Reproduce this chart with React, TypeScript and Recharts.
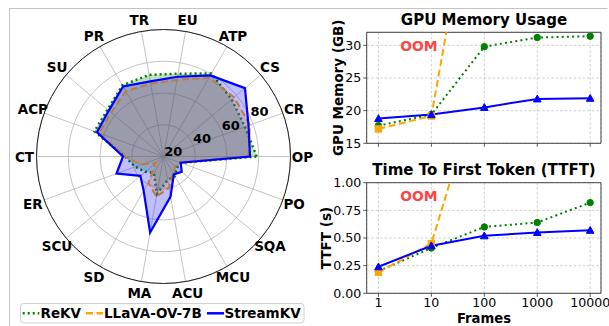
import React from 'react';
import {
  RadarChart, PolarGrid, PolarAngleAxis, PolarRadiusAxis, Radar,
  LineChart, Line, XAxis, YAxis, CartesianGrid, ReferenceArea, ReferenceDot,
} from 'recharts';

// ---------- Radar data (StreamingBench categories) ----------
const categories = ['OP', 'CR', 'CS', 'ATP', 'EU', 'TR', 'PR', 'SU', 'ACP', 'CT', 'ER', 'SCU', 'SD', 'MA', 'ACU', 'MCU', 'SQA', 'PO'];
const rekvScores = [58.7, 54.6, 56, 60.3, 53, 52.2, 51.8, 46, 46.3, 24.3, 19, 15, 12, 24, 15, 14.3, 11, 11.7];
const llavaScores = [53.5, 58, 58, 57.3, 49, 46.5, 47.5, 43, 43.2, 24.3, 15, 6.6, 19, 25.8, 20, 12, 9.7, 10.9];
const streamkvScores = [54.5, 57, 67, 59, 51, 48, 51, 45, 44.6, 25.5, 31.5, 19, 25, 48.6, 25.6, 13, 15, 11.5];
const radialTicks = [20, 40, 60, 80];

// ---------- Line data ----------
const frames = [1, 10, 100, 1000, 10000];
const minorFrameTicks = [0.7, 0.8, 0.9, 2, 3, 4, 5, 6, 7, 8, 9, 20, 30, 40, 50, 60, 70, 80, 90, 200, 300, 400, 500, 600, 700, 800, 900, 2000, 3000, 4000, 5000, 6000, 7000, 8000, 9000];
const memRekv = [17.7, 19.4, 29.8, 31.2, 31.4];
const memLlava = [17.2, 19.2, 64.5, null, null];
const memStreamkv = [18.8, 19.4, 20.5, 21.8, 21.9];
const ttftRekv = [0.20, 0.41, 0.60, 0.64, 0.82];
const ttftLlava = [0.19, 0.45, 2.03, null, null];
const ttftStreamkv = [0.24, 0.43, 0.52, 0.55, 0.57];
const memTicks = [15, 20, 25, 30];
const ttftTicks = [0, 0.25, 0.5, 0.75, 1];

const FONT = '"DejaVu Sans", sans-serif';
const GREEN = '#008000';
const ORANGE = '#ffa500';
const BLUE = '#0000ff';
const OOM_RED = '#ff4444';

const CX = 163.5;
const CY = 156.5;

const radarData = categories.map((c, i) => ({
  cat: c,
  rekv: rekvScores[i],
  llava: llavaScores[i],
  streamkv: streamkvScores[i],
}));

const memData = frames.map((f, i) => ({ f, rekv: memRekv[i], llava: memLlava[i], streamkv: memStreamkv[i] }));
const ttftData = frames.map((f, i) => ({ f, rekv: ttftRekv[i], llava: ttftLlava[i], streamkv: ttftStreamkv[i] }));

const AngleTick = (props: any) => {
  const { payload, x, y, index } = props;
  const idx = typeof index === 'number' ? index : categories.indexOf(payload.value);
  const ang = idx >= 0 ? (360 * idx) / categories.length : (Math.atan2(CY - y, x - CX) * 180) / Math.PI + 40;
  const a = (ang * Math.PI) / 180;
  const R = 139;
  const tx = CX + R * Math.cos(a);
  const ty = CY - R * Math.sin(a);
  return (
    <text x={tx} y={ty} textAnchor="middle" dominantBaseline="central" fontFamily={FONT} fontWeight="bold" fontSize={13.5} fill="#000">
      {payload.value}
    </text>
  );
};

const RadiusTick = (props: any) => {
  const { x, y, payload } = props;
  if (!payload || payload.value === 0) return <g />;
  const a = (25 * Math.PI) / 180;
  return (
    <text x={x - 21 * Math.cos(a)} y={y + 21 * Math.sin(a)} textAnchor="middle" dominantBaseline="central" fontFamily={FONT} fontWeight="bold" fontSize={13} fill="#000">
      {payload.value}
    </text>
  );
};

const circleDot = (color: string) => (p: any) => {
  if (p.cx == null || p.cy == null || p.value == null) return <g key={p.index} />;
  return <circle key={p.index} cx={p.cx} cy={p.cy} r={3.2} fill={color} stroke={color} />;
};
const squareDot = (color: string) => (p: any) => {
  if (p.cx == null || p.cy == null || p.value == null) return <g key={p.index} />;
  return <rect key={p.index} x={p.cx - 3.2} y={p.cy - 3.2} width={6.4} height={6.4} fill={color} stroke={color} />;
};
const triDot = (color: string) => (p: any) => {
  if (p.cx == null || p.cy == null || p.value == null) return <g key={p.index} />;
  const s = 3.8;
  return <path key={p.index} d={`M${p.cx},${p.cy - s} L${p.cx + s},${p.cy + s * 0.8} L${p.cx - s},${p.cy + s * 0.8} Z`} fill={color} stroke={color} />;
};

const emptyTick = () => <g />;

const tickStyle = { fontSize: 12.6, fill: '#000', fontFamily: FONT };

const X_DOMAIN = [0.6, 16000];

function FrameChart({ data, yDomain, yTicks, yFormat, showXLabels, height, marginTop, xAxisHeight, oomY }: any) {
  return (
    <LineChart width={309} height={height} data={data} margin={{ top: marginTop, right: 8, bottom: 0, left: 0 }}>
      <XAxis xAxisId="minor" dataKey="f" type="number" scale="log" domain={X_DOMAIN} allowDataOverflow ticks={minorFrameTicks}
        interval={0} tick={emptyTick} tickSize={2} tickLine={{ stroke: '#333', strokeWidth: 0.8 }} axisLine={false} height={0} />
      <XAxis xAxisId="main" dataKey="f" type="number" scale="log" domain={X_DOMAIN} allowDataOverflow ticks={frames}
        interval={0} tick={showXLabels ? tickStyle : emptyTick} tickSize={3.5} tickMargin={1} tickLine={{ stroke: '#333', strokeWidth: 0.8 }}
        axisLine={false} height={xAxisHeight} />
      <YAxis type="number" domain={yDomain} allowDataOverflow ticks={yTicks} interval={0} tickFormatter={yFormat}
        tick={tickStyle} tickSize={3.5} tickMargin={2} tickLine={{ stroke: '#333', strokeWidth: 0.8 }} axisLine={false} width={66.7} />
      <CartesianGrid xAxisId="main" stroke="#c4c4c4" strokeWidth={0.8} strokeDasharray="2.5 2" />
      <ReferenceArea xAxisId="main" x1={X_DOMAIN[0]} x2={X_DOMAIN[1]} y1={yDomain[0]} y2={yDomain[1]} fill="none" stroke="#444" strokeWidth={1} ifOverflow="visible" />
      <Line xAxisId="main" dataKey="rekv" stroke={GREEN} strokeWidth={2} strokeDasharray="2 3.2" dot={circleDot(GREEN)} isAnimationActive={false} />
      <Line xAxisId="main" dataKey="llava" stroke={ORANGE} strokeWidth={2} strokeDasharray="7 3.5" dot={squareDot(ORANGE)} isAnimationActive={false} />
      <Line xAxisId="main" dataKey="streamkv" stroke={BLUE} strokeWidth={2} dot={triDot(BLUE)} isAnimationActive={false} />
      <ReferenceDot xAxisId="main" x={5.8} y={oomY} r={0} fill="none" stroke="none" ifOverflow="visible"
        label={{ value: 'OOM', position: 'center', fill: OOM_RED, fontSize: 13.8, fontWeight: 'bold', fontFamily: FONT }} />
    </LineChart>
  );
}

export default function App() {
  return (
    <div style={{ position: 'absolute', left: 0, top: 0, width: 609, height: 326, background: '#fff', overflow: 'hidden' }}>
      <div style={{ position: 'absolute', left: 0, top: 0 }}>
        <RadarChart width={320} height={300} cx={CX} cy={CY} outerRadius={127} startAngle={-20} endAngle={340} data={radarData}
          margin={{ top: 0, right: 0, bottom: 0, left: 0 }}>
          <PolarGrid gridType="circle" stroke="#b4b4b4" strokeWidth={0.8} />
          <PolarAngleAxis dataKey="cat" tick={AngleTick} tickLine={false} axisLineType="circle" axisLine={{ stroke: '#222', strokeWidth: 1 }} />
          <Radar dataKey="rekv" stroke={GREEN} strokeWidth={2.5} strokeDasharray="2 3" fill={GREEN} fillOpacity={0.25} isAnimationActive={false} />
          <Radar dataKey="llava" stroke={ORANGE} strokeWidth={2} strokeDasharray="7 3.5" fill={ORANGE} fillOpacity={0.25} isAnimationActive={false} />
          <Radar dataKey="streamkv" stroke={BLUE} strokeWidth={2.2} fill={BLUE} fillOpacity={0.25} isAnimationActive={false} />
          <PolarRadiusAxis angle={25} type="number" domain={[0, 80]} ticks={radialTicks} tickCount={5} tick={RadiusTick} axisLine={false} tickLine={false} />
        </RadarChart>
      </div>

      <div style={{ position: 'absolute', left: 300, top: 0 }}>
        <FrameChart data={memData} yDomain={[15, 32]} yTicks={memTicks} yFormat={(v: number) => String(v)} showXLabels={false}
          height={160} marginTop={32.3} xAxisHeight={16.7} oomY={29.9} />
      </div>
      <div style={{ position: 'absolute', left: 300, top: 160 }}>
        <FrameChart data={ttftData} yDomain={[0, 1]} yTicks={ttftTicks} yFormat={(v: number) => v.toFixed(2)} showXLabels={true}
          height={166} marginTop={22.7} xAxisHeight={32.7} oomY={0.875} />
      </div>

      <svg width={609} height={326} style={{ position: 'absolute', left: 0, top: 0, pointerEvents: 'none' }}>
        <line x1={9.5} y1={8.5} x2={607.5} y2={8.5} stroke="#c4c4c4" strokeWidth={1} />
        <line x1={9.5} y1={8.5} x2={9.5} y2={326} stroke="#c4c4c4" strokeWidth={1} />
        <text x={484} y={24.8} textAnchor="middle" fontFamily={FONT} fontWeight="bold" fontSize={15}>GPU Memory Usage</text>
        <text x={484} y={174.5} textAnchor="middle" fontFamily={FONT} fontWeight="bold" fontSize={15}>Time To First Token (TTFT)</text>
        <text x={338} y={87.8} transform="rotate(-90 338 87.8)" textAnchor="middle" dominantBaseline="central" fontFamily={FONT} fontWeight="bold" fontSize={13.5}>GPU Memory (GB)</text>
        <text x={326} y={238} transform="rotate(-90 326 238)" textAnchor="middle" dominantBaseline="central" fontFamily={FONT} fontWeight="bold" fontSize={13.5}>TTFT (s)</text>
        <text x={484} y={322.8} textAnchor="middle" fontFamily={FONT} fontWeight="bold" fontSize={13.2}>Frames</text>

        <rect x={20.5} y={303.5} width={283.5} height={19.5} rx={3} fill="#fff" stroke="#d0d0d0" strokeWidth={1} />
        <line x1={22.7} y1={313.3} x2={39.3} y2={313.3} stroke={GREEN} strokeWidth={2.5} strokeDasharray="2 3" />
        <text x={40.5} y={318.2} fontFamily={FONT} fontWeight="bold" fontSize={13.5}>ReKV</text>
        <line x1={86} y1={313.3} x2={103} y2={313.3} stroke={ORANGE} strokeWidth={2.5} strokeDasharray="7 3.5" />
        <text x={104} y={318.2} fontFamily={FONT} fontWeight="bold" fontSize={13.5}>LLaVA-OV-7B</text>
        <line x1={207} y1={313.3} x2={224} y2={313.3} stroke={BLUE} strokeWidth={2.5} />
        <text x={224.5} y={318.2} fontFamily={FONT} fontWeight="bold" fontSize={13.5}>StreamKV</text>
      </svg>
    </div>
  );
}
